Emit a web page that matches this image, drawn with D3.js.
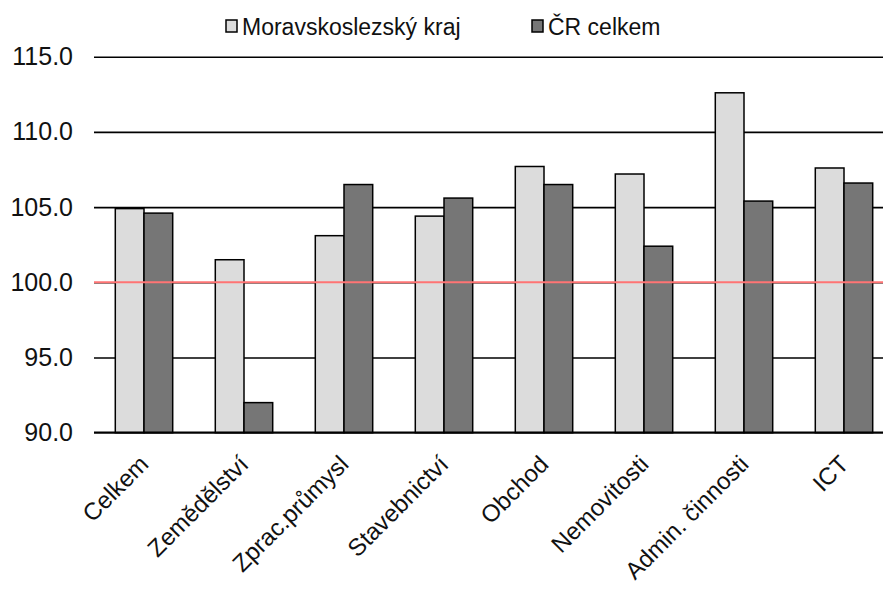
<!DOCTYPE html>
<html>
<head>
<meta charset="utf-8">
<script src="https://cdn.jsdelivr.net/npm/d3@7"></script>
<style>
  html, body { margin: 0; padding: 0; background: #fff; }
  svg { display: block; font-family: 'Liberation Sans', Arial, sans-serif; }
</style>
</head>
<body>
<div id="chart"></div>
<script>
// data
const categories = ['Celkem', 'Zemědělství', 'Zprac.průmysl', 'Stavebnictví', 'Obchod', 'Nemovitosti', 'Admin. činnosti', 'ICT'];
const seriesNames = ['Moravskoslezský kraj', 'ČR celkem'];
const regionValues = [104.9, 101.5, 103.1, 104.4, 107.7, 107.2, 112.6, 107.6];
const czValues = [104.6, 92.0, 106.5, 105.6, 106.5, 102.4, 105.4, 106.6];
const yTicks = [90, 95, 100, 105, 110, 115];
const referenceValue = 100;

const config = {
  width: 883,
  height: 595,
  plot: { left: 94, right: 894, top: 56.7, bottom: 432.7 },
  colors: ['#dcdcdc', '#767676'],
  refColor: '#ff7474'
};

const rows = categories.map((c, i) => ({
  category: c,
  values: [
    { series: seriesNames[0], value: regionValues[i] },
    { series: seriesNames[1], value: czValues[i] }
  ]
}));

const svg = d3.select('#chart').append('svg')
  .attr('width', config.width)
  .attr('height', config.height);

// scales
const xScale = d3.scaleBand()
  .domain(categories)
  .range([config.plot.left, config.plot.right])
  .padding(0);

const xSub = d3.scaleBand()
  .domain(seriesNames)
  .range([0, xScale.bandwidth()])
  .paddingInner(0)
  .paddingOuter(0.742);

const yScale = d3.scaleLinear()
  .domain([90, 115])
  .range([config.plot.bottom, config.plot.top]);

const color = d3.scaleOrdinal().domain(seriesNames).range(config.colors);

// gridlines (behind the bars)
const yAxis = svg.append('g')
  .attr('class', 'y axis')
  .attr('transform', `translate(${config.plot.left},0)`)
  .call(d3.axisLeft(yScale)
    .tickValues(yTicks)
    .tickSize(-(config.plot.right - config.plot.left))
    .tickPadding(21)
    .tickFormat(d3.format('.1f')));
yAxis.select('.domain').remove();
yAxis.selectAll('.tick line')
  .attr('stroke', '#000')
  .attr('stroke-width', d => d === 90 ? 0 : 1.6);
yAxis.selectAll('.tick text')
  .attr('font-size', 25)
  .attr('fill', '#111')
  .attr('font-family', "'Liberation Sans', Arial, sans-serif");

// bars
const groups = svg.append('g').attr('class', 'bars')
  .selectAll('g')
  .data(rows)
  .enter()
  .append('g')
  .attr('transform', d => `translate(${xScale(d.category)},0)`);

groups.selectAll('rect')
  .data(d => d.values)
  .enter()
  .append('rect')
  .attr('x', d => xSub(d.series))
  .attr('y', d => yScale(d.value))
  .attr('width', xSub.bandwidth())
  .attr('height', d => yScale(90) - yScale(d.value))
  .attr('fill', d => color(d.series))
  .attr('stroke', '#000')
  .attr('stroke-width', 1.5);

// baseline at 90
svg.append('line')
  .attr('x1', config.plot.left)
  .attr('x2', config.plot.right)
  .attr('y1', yScale(90))
  .attr('y2', yScale(90))
  .attr('stroke', '#000')
  .attr('stroke-width', 2.2);

// reference line at 100
svg.append('line')
  .attr('x1', config.plot.left)
  .attr('x2', config.plot.right)
  .attr('y1', yScale(referenceValue))
  .attr('y2', yScale(referenceValue))
  .attr('stroke', config.refColor)
  .attr('stroke-width', 2);

// x labels, rotated
const xAxis = svg.append('g')
  .attr('class', 'x axis')
  .attr('transform', `translate(0,${config.plot.bottom})`)
  .call(d3.axisBottom(xScale).tickSize(0).tickPadding(0));
xAxis.select('.domain').remove();
xAxis.selectAll('.tick text')
  .attr('font-size', 24)
  .attr('fill', '#111')
  .attr('font-family', "'Liberation Sans', Arial, sans-serif")
  .attr('text-anchor', 'end')
  .attr('dy', 0)
  .attr('y', 0)
  .attr('transform', 'translate(6,33) rotate(-45)');

// legend
const legendPos = [226, 532];
const legend = svg.append('g').attr('class', 'legend')
  .selectAll('g')
  .data(seriesNames)
  .enter()
  .append('g')
  .attr('transform', (d, i) => `translate(${legendPos[i]},20)`);

legend.append('rect')
  .attr('width', 11)
  .attr('height', 12)
  .attr('fill', d => color(d))
  .attr('stroke', '#000')
  .attr('stroke-width', 1.5);

legend.append('text')
  .attr('x', 16)
  .attr('y', 15)
  .attr('font-size', 23)
  .attr('fill', '#111')
  .text(d => d);
</script>
</body>
</html>
